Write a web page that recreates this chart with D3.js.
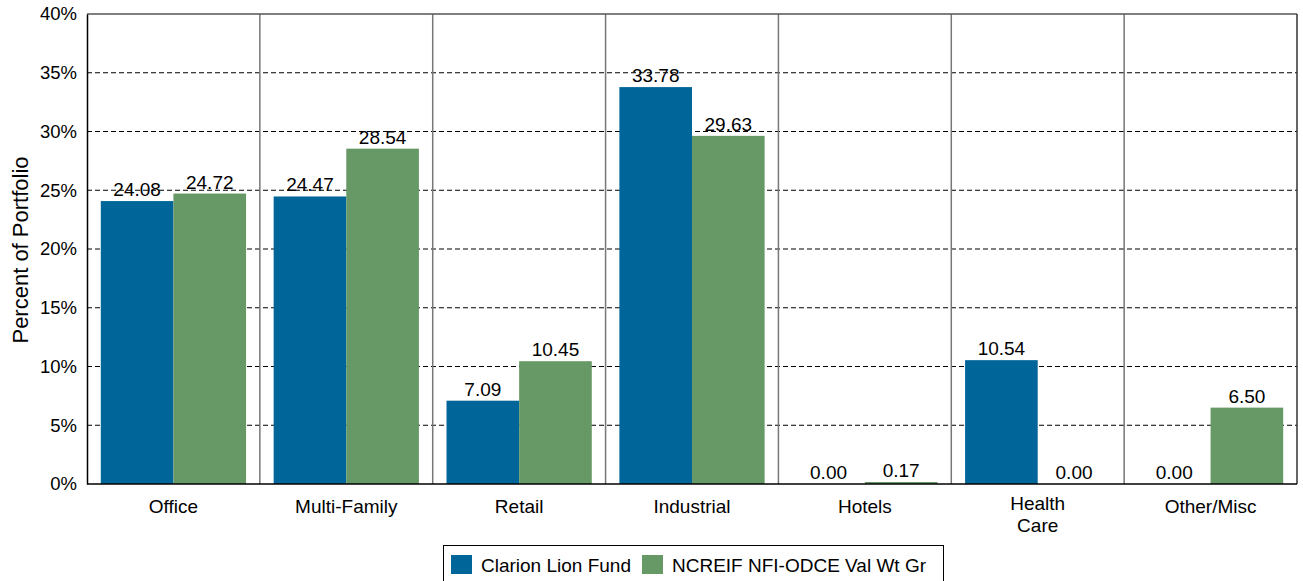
<!DOCTYPE html>
<html><head><meta charset="utf-8">
<script src="https://cdn.jsdelivr.net/npm/d3@7"></script>
<style>body{margin:0;background:#fff;font-family:"Liberation Sans",Arial,sans-serif;}</style>
</head><body><svg id="c" width="1303" height="581"></svg>
<script>
const categories = ["Office","Multi-Family","Retail","Industrial","Hotels","Health Care","Other/Misc"];
const categoryLines = [["Office"],["Multi-Family"],["Retail"],["Industrial"],["Hotels"],["Health","Care"],["Other/Misc"]];
const seriesNames = ["Clarion Lion Fund","NCREIF NFI-ODCE Val Wt Gr"];
const clarion = [24.08,24.47,7.09,33.78,0.00,10.54,0.00];
const ncreif = [24.72,28.54,10.45,29.63,0.17,0.00,6.50];
const yTicks = [0,5,10,15,20,25,30,35,40];
const colors = ["#006699","#669966"];

const svg = d3.select("#c");
const L=87,R=1297,T=14,B=484;
const x = d3.scaleBand().domain(categories).range([L,R]).paddingInner(0).paddingOuter(0);
const x1 = d3.scaleBand().domain([0,1]).range([0,x.bandwidth()]).paddingInner(0).paddingOuter(0.19);
const y = d3.scaleLinear().domain([0,40]).range([B,T]);

// grid
svg.append("g").selectAll("line").data(yTicks.filter(t=>t>0&&t<40)).join("line")
 .attr("x1",L).attr("x2",R).attr("y1",d=>y(d)).attr("y2",d=>y(d))
 .attr("stroke","#000").attr("stroke-width",1).attr("stroke-dasharray","5,3");
// dividers
svg.append("g").selectAll("line").data(categories.slice(1)).join("line")
 .attr("x1",d=>x(d)).attr("x2",d=>x(d)).attr("y1",T).attr("y2",B)
 .attr("stroke","#777").attr("stroke-width",1.5);
// frame top/right
svg.append("line").attr("x1",L).attr("x2",R).attr("y1",T).attr("y2",T).attr("stroke","#555").attr("stroke-width",1.5);
svg.append("line").attr("x1",R).attr("x2",R).attr("y1",T).attr("y2",B).attr("stroke","#333").attr("stroke-width",1.5);

const series=[clarion,ncreif];
series.forEach((vals,si)=>{
 const g=svg.append("g");
 g.selectAll("rect").data(vals).join("rect")
  .attr("x",(d,i)=>x(categories[i])+x1(si)).attr("width",x1.bandwidth())
  .attr("y",d=>y(d)).attr("height",d=>B-y(d)).attr("fill",colors[si]);
 g.selectAll("text").data(vals).join("text")
  .attr("x",(d,i)=>x(categories[i])+x1(si)+x1.bandwidth()/2)
  .attr("y",d=>y(d)-5).attr("text-anchor","middle")
  .attr("font-size",19).attr("fill","#000").text(d=>d.toFixed(2));
});

// axes
const ya=svg.append("g").attr("transform",`translate(${L},0)`)
 .call(d3.axisLeft(y).tickValues(yTicks).tickSize(0).tickPadding(10).tickFormat(d=>d+"%"));
ya.select(".domain").attr("stroke","#000").attr("stroke-width",1.5);
ya.selectAll("text").attr("font-size",18.5).attr("font-family","Liberation Sans, Arial, sans-serif").attr("fill","#000");
svg.append("line").attr("x1",L).attr("x2",R).attr("y1",B).attr("y2",B).attr("stroke","#000").attr("stroke-width",1.5);

const xl=svg.append("g");
categories.forEach((c,i)=>{
 const lines=categoryLines[i];
 const y0 = lines.length>1 ? 510 : 513;
 lines.forEach((ln,j)=>xl.append("text").attr("x",x(c)+x.bandwidth()/2).attr("y",y0+j*21.5)
  .attr("text-anchor","middle").attr("font-size",19).attr("fill","#000").text(ln));
});

svg.append("text").attr("transform","translate(28,250) rotate(-90)").attr("text-anchor","middle")
 .attr("font-size",22).attr("fill","#000").text("Percent of Portfolio");

// legend
const lg=svg.append("g");
lg.append("rect").attr("x",443.5).attr("y",545.5).attr("width",500).attr("height",40).attr("fill","#fff").attr("stroke","#000").attr("stroke-width",1);
const lx=[451,642];
seriesNames.forEach((n,i)=>{
 lg.append("rect").attr("x",lx[i]).attr("y",555).attr("width",21).attr("height",19).attr("fill",colors[i]);
 lg.append("text").attr("x",lx[i]+30).attr("y",572).attr("font-size",19).attr("fill","#000").text(n);
});
</script></body></html>
